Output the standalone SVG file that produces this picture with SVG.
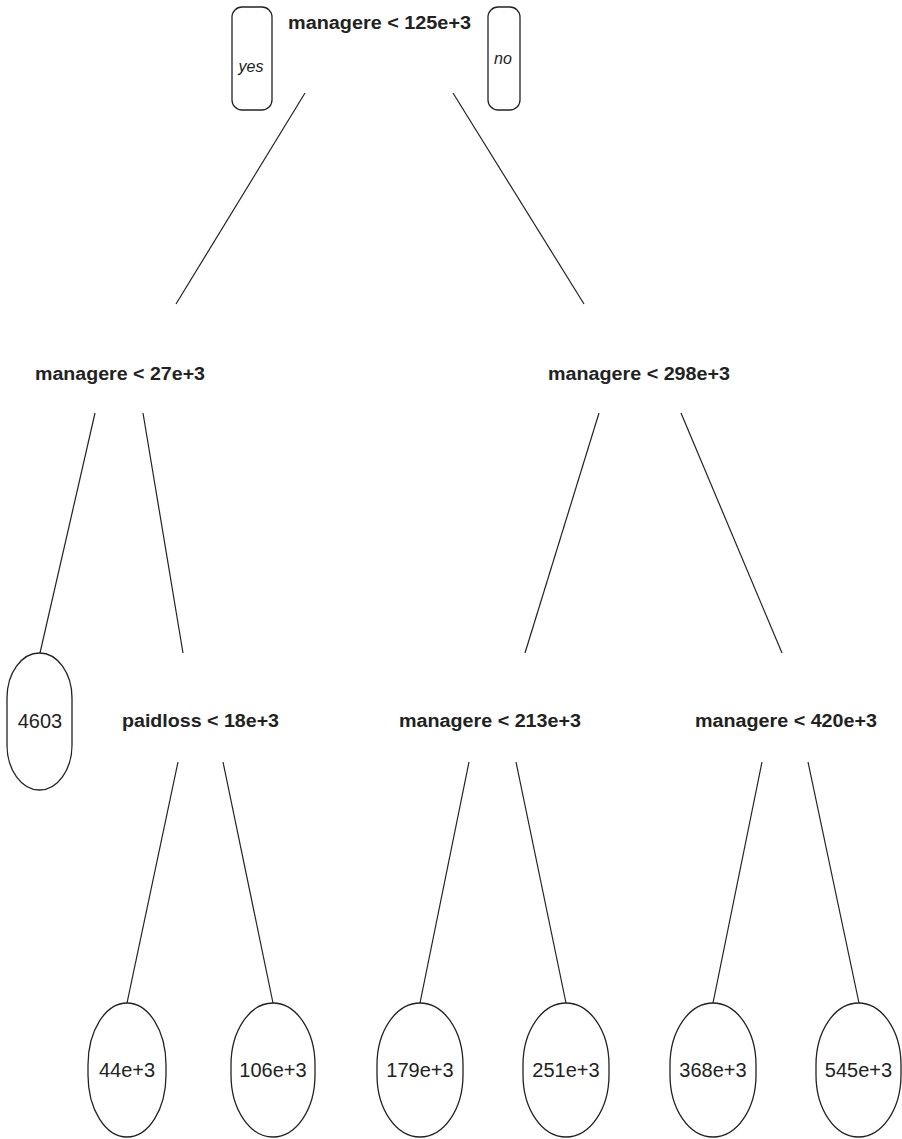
<svg xmlns="http://www.w3.org/2000/svg" width="902" height="1139" viewBox="0 0 902 1139">
<style>
.bg{fill:#ffffff}
.split{font-family:"Liberation Sans",Arial,sans-serif;font-weight:bold;font-size:18px;fill:#222;text-anchor:middle}
.leaf{fill:#fff;stroke:#222;stroke-width:1.3}
.lt{font-family:"Liberation Sans",Arial,sans-serif;font-size:20px;fill:#222;text-anchor:middle}
.yn{font-family:"Liberation Sans",Arial,sans-serif;font-style:italic;font-size:16px;fill:#222;text-anchor:middle}
.edge{stroke:#222;stroke-width:1.2;fill:none}
</style>
<rect class="bg" x="0" y="0" width="902" height="1139"/>
<g id="connectors">
<line class="edge" x1="305" y1="93" x2="176" y2="304"/>
<line class="edge" x1="453" y1="93" x2="584" y2="304"/>
<line class="edge" x1="95" y1="413" x2="40" y2="653"/>
<line class="edge" x1="143" y1="413" x2="183" y2="653"/>
<line class="edge" x1="599" y1="413" x2="525" y2="653"/>
<line class="edge" x1="681" y1="413" x2="782" y2="653"/>
<line class="edge" x1="178" y1="762" x2="127" y2="1003"/>
<line class="edge" x1="223" y1="762" x2="273" y2="1003"/>
<line class="edge" x1="469" y1="762" x2="420" y2="1003"/>
<line class="edge" x1="516" y1="762" x2="566" y2="1003"/>
<line class="edge" x1="762" y1="762" x2="713" y2="1003"/>
<line class="edge" x1="808" y1="762" x2="859" y2="1003"/>
</g>
<g id="yes-label">
<rect class="leaf" x="232" y="7" width="40" height="103" rx="10" ry="10"/>
<text class="yn" x="251" y="72">yes</text>
</g>
<g id="no-label">
<rect class="leaf" x="488" y="7" width="32" height="103" rx="10" ry="10"/>
<text class="yn" x="503" y="64">no</text>
</g>
<g id="n1"><text class="split" x="379.5" y="29" textLength="183" lengthAdjust="spacingAndGlyphs">managere &lt; 125e+3</text></g>
<g id="n2"><text class="split" x="120" y="380" textLength="170" lengthAdjust="spacingAndGlyphs">managere &lt; 27e+3</text></g>
<g id="n3"><text class="split" x="639" y="380" textLength="182" lengthAdjust="spacingAndGlyphs">managere &lt; 298e+3</text></g>
<g id="n4"><rect class="leaf" x="7" y="653" width="65" height="137" rx="32.5" ry="45"/><text class="lt" x="40" y="728">4603</text></g>
<g id="n5"><text class="split" x="200.5" y="727" textLength="157" lengthAdjust="spacingAndGlyphs">paidloss &lt; 18e+3</text></g>
<g id="n6"><text class="split" x="490" y="727" textLength="182" lengthAdjust="spacingAndGlyphs">managere &lt; 213e+3</text></g>
<g id="n7"><text class="split" x="786" y="727" textLength="182" lengthAdjust="spacingAndGlyphs">managere &lt; 420e+3</text></g>
<g id="n8"><rect class="leaf" x="88" y="1003" width="78" height="134" rx="39" ry="62"/><text class="lt" x="127" y="1077">44e+3</text></g>
<g id="n9"><rect class="leaf" x="231" y="1003" width="84" height="134" rx="42" ry="62"/><text class="lt" x="273" y="1077">106e+3</text></g>
<g id="n10"><rect class="leaf" x="377" y="1003" width="86" height="134" rx="43" ry="62"/><text class="lt" x="420" y="1077">179e+3</text></g>
<g id="n11"><rect class="leaf" x="523" y="1003" width="86" height="134" rx="43" ry="62"/><text class="lt" x="566" y="1077">251e+3</text></g>
<g id="n12"><rect class="leaf" x="670" y="1003" width="86" height="134" rx="43" ry="62"/><text class="lt" x="713" y="1077">368e+3</text></g>
<g id="n13"><rect class="leaf" x="816" y="1003" width="85" height="134" rx="42.5" ry="62"/><text class="lt" x="858.5" y="1077">545e+3</text></g>
</svg>
